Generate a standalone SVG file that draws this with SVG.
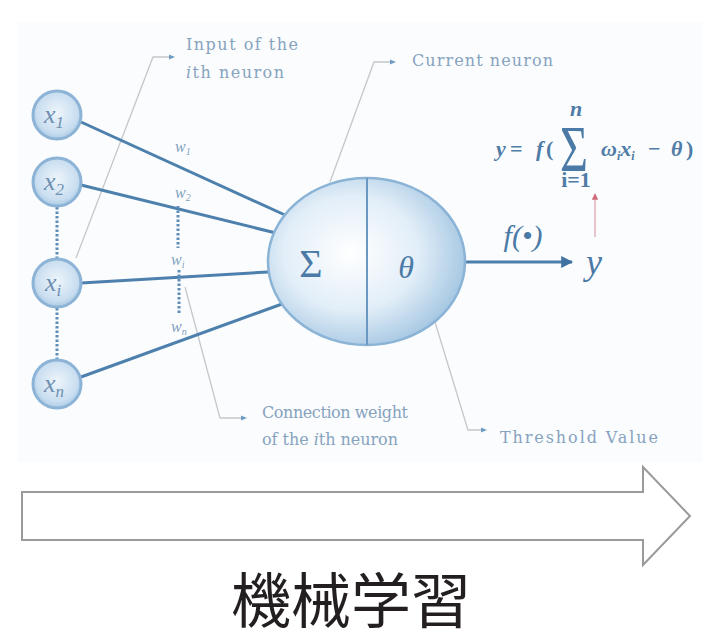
<svg xmlns="http://www.w3.org/2000/svg" width="702" height="637" viewBox="0 0 702 637">
<defs>
<radialGradient id="gNeuron" cx="0.42" cy="0.45" r="0.62">
<stop offset="0" stop-color="#ffffff"/>
<stop offset="0.55" stop-color="#e2eef8"/>
<stop offset="1" stop-color="#9fc3e0"/>
</radialGradient>
<radialGradient id="gIn" cx="0.5" cy="0.45" r="0.6">
<stop offset="0" stop-color="#eef5fb"/>
<stop offset="0.7" stop-color="#c9def0"/>
<stop offset="1" stop-color="#9fc3e0"/>
</radialGradient>
<marker id="dot" viewBox="0 0 10 10" refX="5" refY="5" markerWidth="5" markerHeight="5" orient="auto">
<path d="M0,1 L10,5 L0,9 Z" fill="#6f9cc4"/>
</marker>
<marker id="arr" viewBox="0 0 10 10" refX="9" refY="5" markerWidth="4" markerHeight="4" orient="auto">
<path d="M0,0 L10,5 L0,10 Z" fill="#3f72a0"/>
</marker>
<marker id="red" viewBox="0 0 10 10" refX="9" refY="5" markerWidth="5" markerHeight="5" orient="auto">
<path d="M0,0 L10,5 L0,10 Z" fill="#d06a78"/>
</marker>
<style>
.lead{fill:none;stroke:#c4c8cc;stroke-width:1.3}
.wire{fill:none;stroke:#4d80ad;stroke-width:3}
.dots{fill:none;stroke:#5d8db8;stroke-width:3;stroke-dasharray:2.5 2}
.lbl{font-family:"DejaVu Serif",serif;font-size:16px;fill:#86a3c0}
.inlbl{font-family:"Liberation Serif",serif;font-style:italic;font-size:26px;fill:#6e90b2}
.w{font-family:"Liberation Serif",serif;font-style:italic;font-size:16px;fill:#7f9fbf}
.math{font-family:"Liberation Serif",serif;fill:#4a7aa5}
.f{font-family:"Liberation Serif",serif;font-weight:bold;font-size:22px;fill:#4f7ca6}
.incirc{fill:url(#gIn);stroke:#8db4d6;stroke-width:3}
</style>
</defs>
<rect width="702" height="637" fill="#ffffff"/>
<rect x="18" y="22" width="684" height="440" fill="#fbfcfd"/>

<g id="connectors">
<polyline class="lead" points="76,258 153,57 172,57" marker-end="url(#dot)"/>
<polyline class="lead" points="330,182 374,62 393,62" marker-end="url(#dot)"/>
<polyline class="lead" points="185,287 220,418 244,418" marker-end="url(#dot)"/>
<polyline class="lead" points="420,273 468,430 484,430" marker-end="url(#dot)"/>
<line class="wire" x1="81" y1="122" x2="285" y2="215"/>
<line class="wire" x1="81" y1="185" x2="276" y2="233"/>
<line class="wire" x1="81" y1="283" x2="268" y2="272"/>
<line class="wire" x1="81" y1="377" x2="282" y2="304"/>
<line class="dots" x1="57" y1="207" x2="57" y2="258"/>
<line class="dots" x1="57" y1="308" x2="57" y2="360"/>
<line class="dots" x1="178" y1="206" x2="178" y2="248"/>
<line class="dots" x1="179" y1="270" x2="179" y2="313"/>
<line stroke="#4a7fab" stroke-width="3" x1="465" y1="262" x2="572" y2="262" marker-end="url(#arr)"/>
<line stroke="#d9a8ae" stroke-width="1.3" x1="595" y1="237" x2="595" y2="194" marker-end="url(#red)"/>
</g>

<g id="x1"><circle class="incirc" cx="57" cy="115" r="24"/><text class="inlbl" x="44" y="123">x<tspan font-size="17" dy="5">1</tspan></text></g>
<g id="x2"><circle class="incirc" cx="57" cy="182" r="24"/><text class="inlbl" x="44" y="190">x<tspan font-size="17" dy="5">2</tspan></text></g>
<g id="xi"><circle class="incirc" cx="57" cy="283" r="24"/><text class="inlbl" x="45" y="291">x<tspan font-size="17" dy="5">i</tspan></text></g>
<g id="xn"><circle class="incirc" cx="57" cy="384" r="24"/><text class="inlbl" x="44" y="392">x<tspan font-size="17" dy="5">n</tspan></text></g>

<g id="weights">
<text class="w" x="175" y="152">w<tspan font-size="10" dy="3">1</tspan></text>
<text class="w" x="175" y="198">w<tspan font-size="10" dy="3">2</tspan></text>
<text class="w" x="171" y="265">w<tspan font-size="10" dy="3">i</tspan></text>
<text class="w" x="171" y="332">w<tspan font-size="10" dy="3">n</tspan></text>
</g>

<g id="neuron">
<ellipse cx="366.5" cy="261.5" rx="98.5" ry="83.5" fill="url(#gNeuron)" stroke="#8ab3d6" stroke-width="2.5"/>
<line x1="367" y1="178" x2="367" y2="345" stroke="#6a98c2" stroke-width="2"/>
<text class="math" x="311" y="277" font-size="40" text-anchor="middle" fill="#5a7e9e">Σ</text>
<text class="math" x="406" y="278" font-size="32" font-style="italic" text-anchor="middle" fill="#5a7e9e">θ</text>
</g>

<g id="output">
<text class="math" x="523" y="246" font-size="30" font-style="italic" text-anchor="middle" fill="#4d7ea8">f(•)</text>
<text class="math" x="594" y="274" font-size="36" font-style="italic" text-anchor="middle" fill="#4d7ea8">y</text>
</g>

<g id="formula">
<text class="f" x="496" y="156" font-style="italic">y</text>
<text class="f" x="510" y="156">=</text>
<text class="f" x="536" y="156" font-style="italic">f</text>
<text class="f" x="546" y="156">(</text>
<text class="math" transform="scale(1,1.35)" x="574" y="127" font-size="48" text-anchor="middle" fill="#4f7ca6">Σ</text>
<text class="f" x="576" y="116" font-size="10" font-style="italic" text-anchor="middle">n</text>
<text class="f" x="576" y="187" font-size="11" text-anchor="middle">i=1</text>
<text class="f" x="601" y="156" font-style="italic">ω<tspan font-size="12" dy="4">i</tspan><tspan dy="-4">x</tspan><tspan font-size="12" dy="4">i</tspan></text>
<text class="f" x="648" y="156">−</text>
<text class="f" x="671" y="156" font-style="italic">θ</text>
<text class="f" x="686" y="156">)</text>
</g>

<g id="labels">
<text class="lbl" x="186" y="50" textLength="112">Input of the</text>
<text class="lbl" x="186" y="78" textLength="98"><tspan font-style="italic">i</tspan>th neuron</text>
<text class="lbl" x="412" y="66" textLength="141">Current neuron</text>
<text class="lbl" x="262" y="418" textLength="146">Connection weight</text>
<text class="lbl" x="262" y="445" textLength="136">of the <tspan font-style="italic">i</tspan>th neuron</text>
<text class="lbl" x="500" y="443" textLength="158">Threshold Value</text>
</g>

<g id="bigarrow">
<path d="M22,492 L643,492 L643,467 L690,516 L643,565 L643,540 L22,540 Z" fill="#ffffff" stroke="#9a9a9a" stroke-width="2"/>
</g>

<g id="title">
<text x="351" y="623" font-family="'Noto Sans CJK JP',sans-serif" font-size="60" text-anchor="middle" fill="#231f20">機械学習</text>
</g>
</svg>
